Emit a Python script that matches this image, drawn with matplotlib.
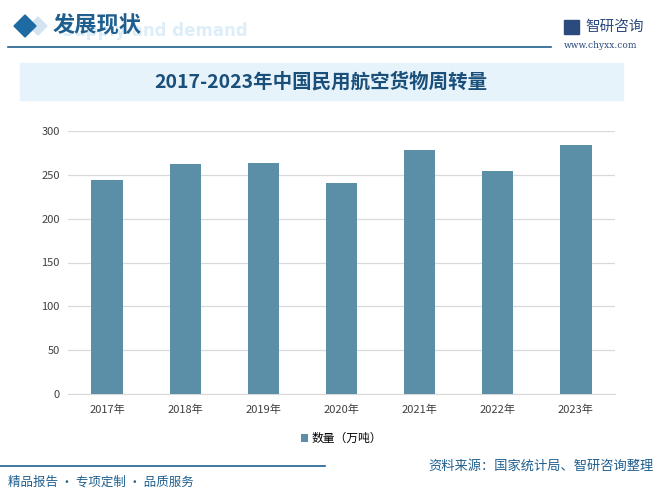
import matplotlib
matplotlib.use("Agg")
import matplotlib.pyplot as plt
from matplotlib.patches import Polygon, Rectangle

plt.rcParams['font.family'] = ['Noto Sans CJK SC', 'DejaVu Sans']

years = ['2017年', '2018年', '2019年', '2020年', '2021年', '2022年', '2023年']
values = [243.55, 262.50, 263.20, 240.20, 278.16, 253.96, 283.62]
yticks = [0, 50, 100, 150, 200, 250, 300]

fig = plt.figure(figsize=(6.66, 4.93), dpi=100)
W, H = 666, 493

def fx(x): return x / W
def fy(y): return 1 - y / H

# header
fig.patches.append(Polygon([[fx(38), fy(17)], [fx(47), fy(26)], [fx(38), fy(35)], [fx(29), fy(26)]],
                           closed=True, transform=fig.transFigure, color='#D3E4F0', zorder=1))
fig.patches.append(Polygon([[fx(25), fy(15)], [fx(36), fy(26)], [fx(25), fy(37)], [fx(14), fy(26)]],
                           closed=True, transform=fig.transFigure, color='#1E6BA3', zorder=2))
fig.text(fx(62), fy(31), 'Supply and demand', fontsize=12, fontweight='bold', color='#DDEEF9',
         va='center', ha='left', family='DejaVu Sans', zorder=1)
fig.text(fx(53), fy(26), '发展现状', fontsize=16, fontweight='bold', color='#1F5F8F',
         va='center', ha='left', zorder=3)
fig.lines.append(plt.Line2D([fx(8), fx(551)], [fy(47), fy(47)], transform=fig.transFigure,
                            color='#1F5F8F', lw=1.2))
fig.text(fx(585), fy(27), '智研咨询', fontsize=10.5, color='#2B4A7E', va='center', ha='left')
fig.patches.append(Rectangle((fx(564), fy(34)), fx(15), 14 / H, transform=fig.transFigure,
                             color='#2B4A7E'))
fig.text(fx(601), fy(45), 'www.chyxx.com', fontsize=6.5, color='#2B4A7E', va='center', ha='center',
         family='DejaVu Serif')

# title band
fig.patches.append(Rectangle((fx(20), fy(100)), fx(603), 37 / H, transform=fig.transFigure,
                             color='#E6F3FB', zorder=0))
fig.text(fx(321), fy(82), '2017-2023年中国民用航空货物周转量', fontsize=14, fontweight='bold',
         color='#1A4F7A', va='center', ha='center')

# chart
ax = fig.add_axes([fx(68), fy(394), fx(547), 263 / H])
x = list(range(len(years)))
bars = ax.bar(x, values, width=0.4, color='#5B8FA8', zorder=3, label='数量（万吨）')
ax.set_xlim(-0.5, len(years) - 0.5)
ax.set_ylim(0, 300)
ax.set_yticks(yticks)
ax.set_xticks(x)
ax.set_xticklabels(years)
ax.grid(axis='y', color='#D9D9D9', lw=0.9, zorder=0)
for s in ['top', 'right', 'left']:
    ax.spines[s].set_visible(False)
ax.spines['bottom'].set_color('#D9D9D9')
ax.tick_params(axis='both', length=0, labelsize=8, colors='#404040', pad=6)
ax.tick_params(axis='x', pad=8)
ax.set_facecolor('none')
ax.legend(loc='upper center', bbox_to_anchor=(0.5, -0.105), frameon=False, fontsize=8.5,
          handlelength=0.6, handleheight=0.6, handletextpad=0.3)

# footer
fig.lines.append(plt.Line2D([0, fx(325)], [fy(466), fy(466)], transform=fig.transFigure,
                            color='#1F5F8F', lw=1.2))
fig.text(fx(428), fy(466), '资料来源：国家统计局、智研咨询整理', fontsize=9.5, color='#1F5F8F',
         va='center', ha='left')
fig.text(fx(8), fy(482), '精品报告 · 专项定制 · 品质服务', fontsize=9, color='#1F5F8F',
         va='center', ha='left')

fig.savefig('out.png', dpi=100)
